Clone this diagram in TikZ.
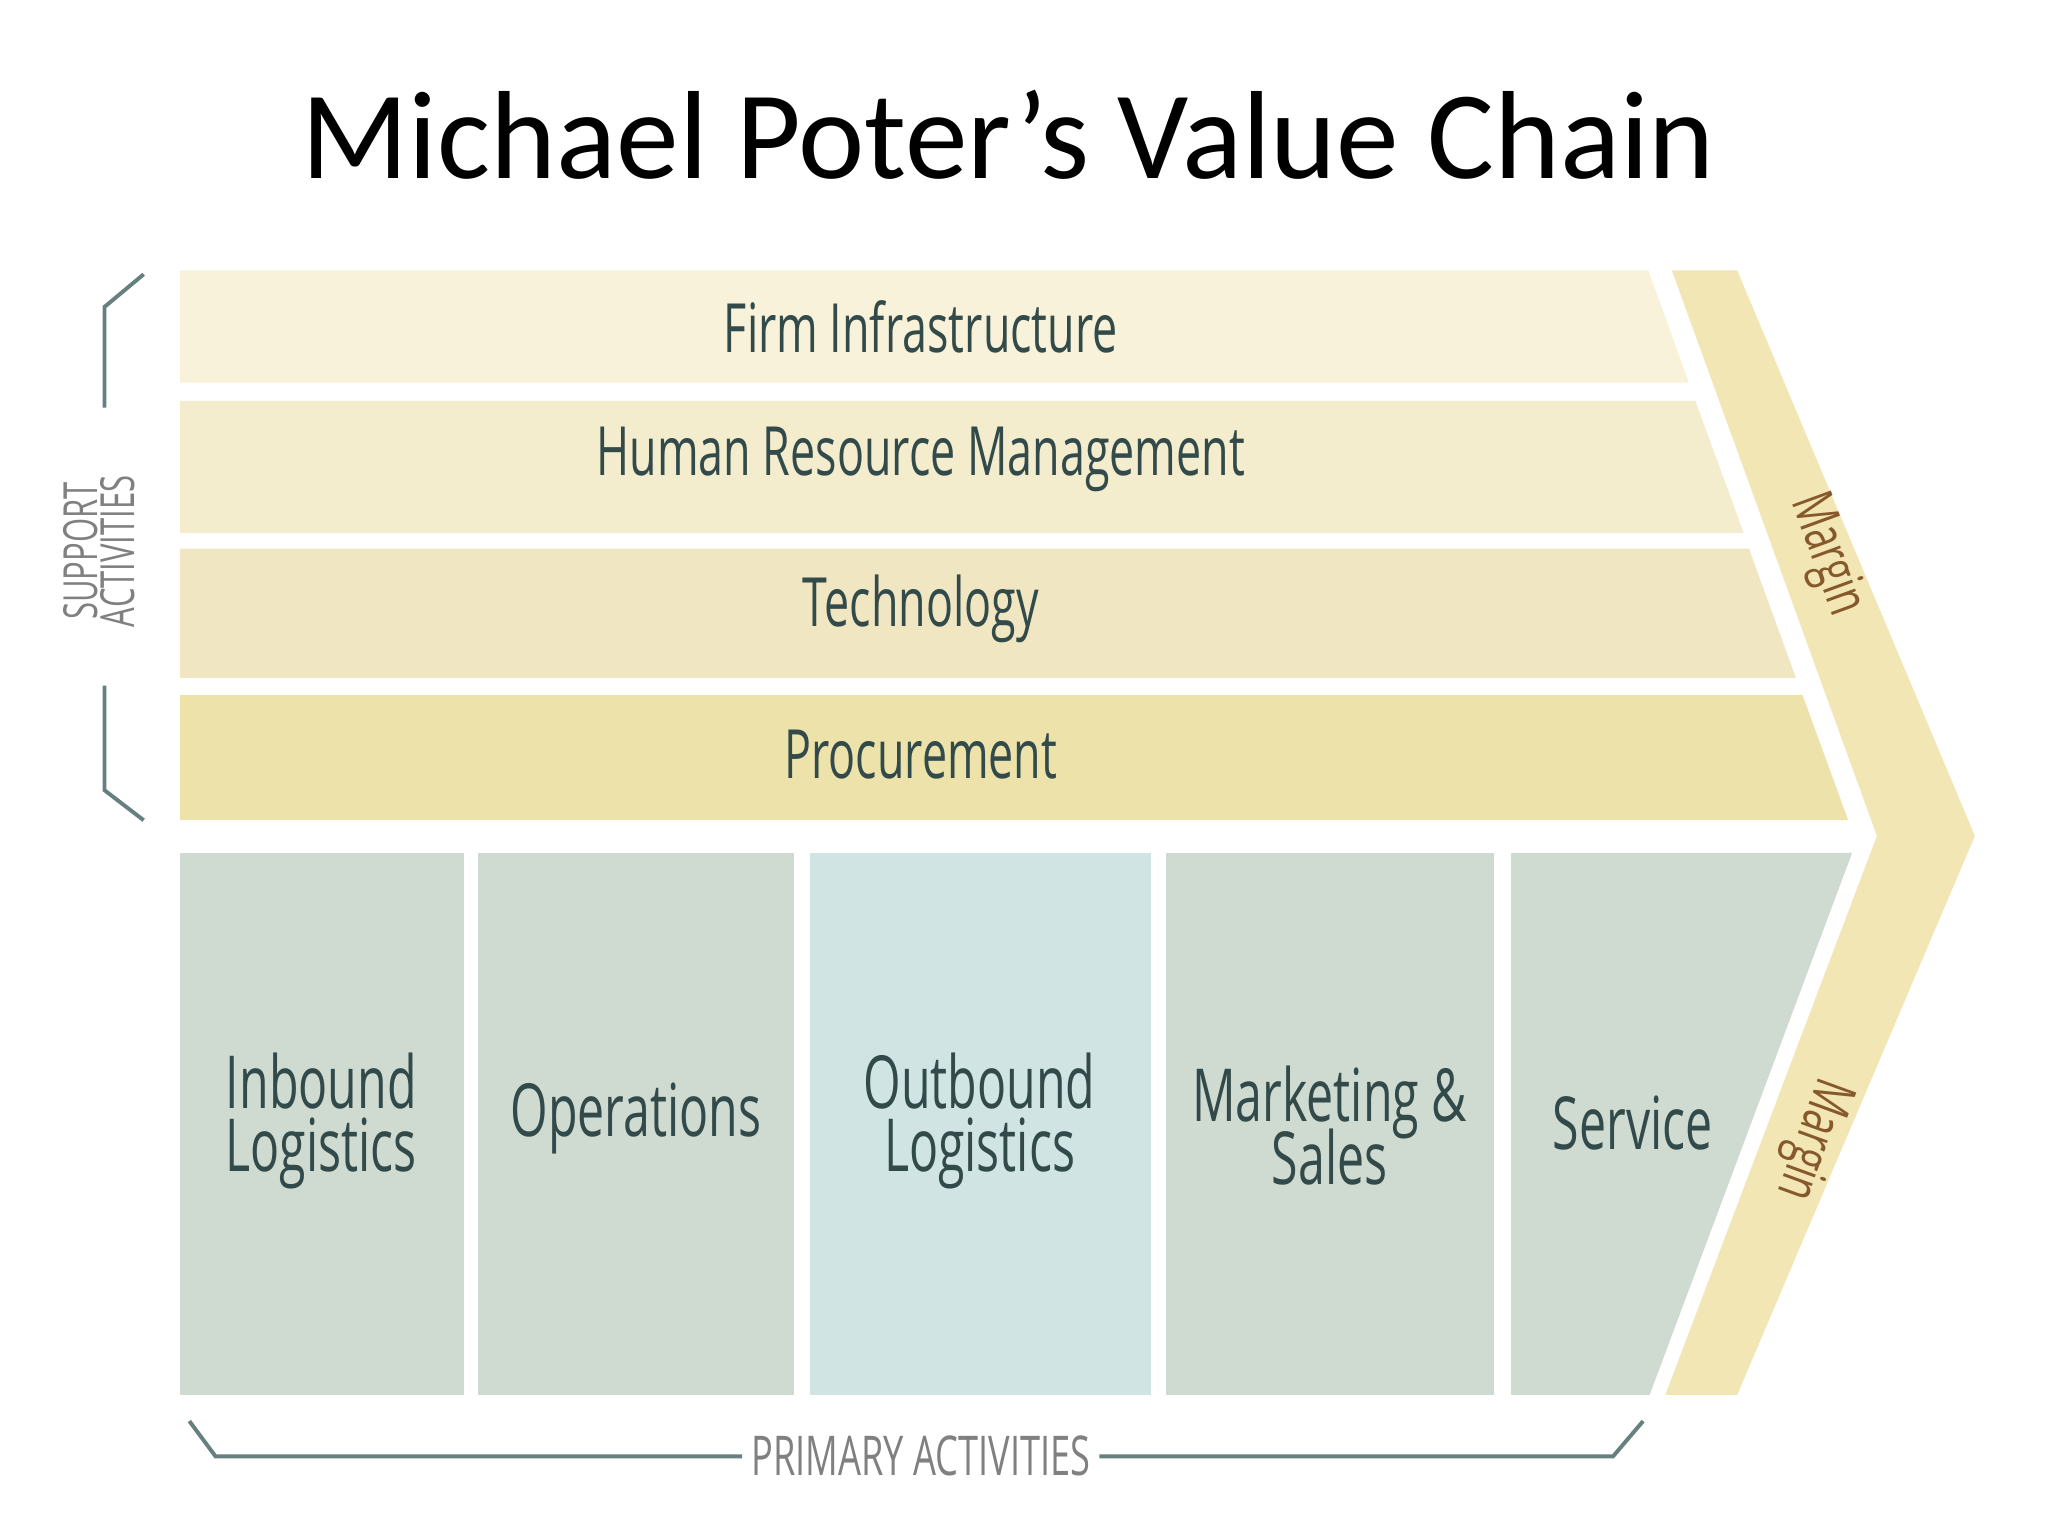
\documentclass[tikz,border=0pt]{standalone}
\usepackage{fontspec}
\setmainfont{Carlito}
\newfontfamily\cond[FakeStretch=0.66]{Open Sans}
\begin{document}
\begin{tikzpicture}[x=0.5pt,y=-0.5pt,
  lbl/.style={font=\cond\fontsize{26}{30}\selectfont, text=black!70!teal!60!gray},
  plbl/.style={font=\cond\fontsize{28}{30}\selectfont, text=black!70!teal!60!gray, align=center},
  brk/.style={draw=gray!80!teal, line width=1.5pt},
  small/.style={font=\cond\fontsize{18}{18}\selectfont, text=gray}]
\useasboundingbox (0,0) rectangle (1568,1176);
\fill[white] (0,0) rectangle (1568,1176);
\definecolor{fi}{HTML}{F7F2D9}\definecolor{hr}{HTML}{F3ECCD}
\definecolor{te}{HTML}{F0E7C2}\definecolor{pr}{HTML}{ECE2AA}
\definecolor{pg}{HTML}{CFDBD0}\definecolor{pb}{HTML}{D0E4E4}
\definecolor{mg}{HTML}{F1E6B4}
\node[font=\fontsize{48}{52}\selectfont] (title) at (772,103) {Michael Poter’s Value Chain};
% margin chevron
\fill[mg] (1280,207) -- (1330,207) -- (1512,640) -- (1330,1068) -- (1275,1068) -- (1437,640) -- cycle;
% support bands
\fill[fi] (138,207) -- (1262,207) -- (1293,293) -- (138,293) -- cycle;
\fill[hr] (138,307) -- (1298,307) -- (1335,408) -- (138,408) -- cycle;
\fill[te] (138,420) -- (1339,420) -- (1375,519) -- (138,519) -- cycle;
\fill[pr] (138,532) -- (1380,532) -- (1415,628) -- (138,628) -- cycle;
\node[lbl] (fi) at (705,250) {Firm Infrastructure};
\node[lbl] (hr) at (705,352) {Human Resource Management};
\node[lbl] (te) at (705,466) {Technology};
\node[lbl] (pr) at (705,578) {Procurement};
% primary
\fill[pg] (138,653) rectangle (355,1068);
\fill[pg] (366,653) rectangle (608,1068);
\fill[pb] (620,653) rectangle (881,1068);
\fill[pg] (893,653) rectangle (1144,1068);
\fill[pg] (1157,653) -- (1418,653) -- (1263,1068) -- (1157,1068) -- cycle;
\node[plbl] (il) at (246,858) {Inbound\\[-6pt]Logistics};
\node[plbl] (op) at (487,856) {Operations};
\node[plbl] (ol) at (750,858) {Outbound\\[-6pt]Logistics};
\node[plbl] (ms) at (1018,862) {Marketing \&\\[-6pt]Sales};
\node[plbl] (sv) at (1250,860) {Service};
\node[lbl, rotate=-70, font=\cond\fontsize{22}{24}\selectfont, text=brown!70!black] (m1) at (1398,425) {Margin};
\node[lbl, rotate=-110, font=\cond\fontsize{22}{24}\selectfont, text=brown!70!black] (m2) at (1387,872) {Margin};
% support bracket
\draw[brk] (110,210) -- (80,235) -- (80,312);
\draw[brk] (80,525) -- (80,605) -- (110,628);
\node[small, rotate=90, align=center] (sa) at (76,422) {SUPPORT\\[-4pt]ACTIVITIES};
% primary bracket
\node[small, font=\cond\fontsize{21}{21}\selectfont] (pa) at (705,1115) {PRIMARY ACTIVITIES};
\draw[brk] (145,1088) -- (165,1115) -- (pa.west);
\draw[brk] (pa.east) -- (1235,1115) -- (1258,1088);
\end{tikzpicture}
\end{document}
